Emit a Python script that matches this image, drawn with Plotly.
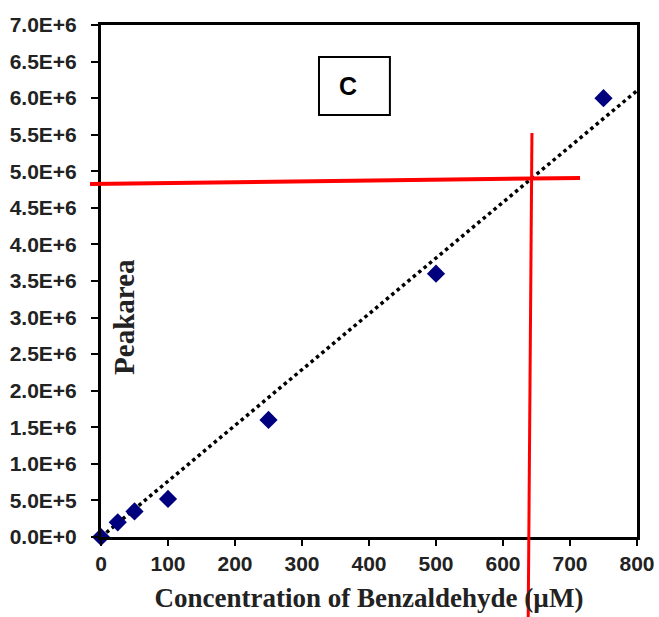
import numpy as np
import plotly.graph_objects as go

conc = [0, 25, 50, 100, 250, 500, 750]
peak_area = [0, 2.0e5, 3.5e5, 5.2e5, 1.6e6, 3.6e6, 6.0e6]
y_tick_vals = [i * 5e5 for i in range(15)]
y_tick_text = ["0.0E+0", "5.0E+5", "1.0E+6", "1.5E+6", "2.0E+6", "2.5E+6", "3.0E+6",
               "3.5E+6", "4.0E+6", "4.5E+6", "5.0E+6", "5.5E+6", "6.0E+6", "6.5E+6", "7.0E+6"]
x_tick_vals = [0, 100, 200, 300, 400, 500, 600, 700, 800]

# zero-intercept linear trendline
xa = np.array(conc, dtype=float)
ya = np.array(peak_area, dtype=float)
slope = (xa * ya).sum() / (xa * xa).sum()
trend_x = [0, 800]
trend_y = [slope * v for v in trend_x]

fig = go.Figure()
fig.add_trace(go.Scatter(x=trend_x, y=trend_y, mode="lines",
                         line=dict(color="black", width=3.5, dash="dot"),
                         hoverinfo="skip", showlegend=False))
fig.add_trace(go.Scatter(x=conc, y=peak_area, mode="markers",
                         marker=dict(symbol="diamond", size=14, color="#00007f"),
                         showlegend=False, cliponaxis=False))

axis_font = dict(family="Liberation Sans, Arial", size=21, color="#222222")
fig.update_xaxes(range=[0, 800], tickvals=x_tick_vals,
                 ticktext=["<b>%d</b>" % v for v in x_tick_vals],
                 ticks="outside", ticklen=6, tickwidth=2, tickcolor="black",
                 ticklabelstandoff=0, automargin=False,
                 showline=True, linecolor="black", linewidth=3, mirror=True,
                 showgrid=False, zeroline=False, tickfont=axis_font,
                 title=dict(text="<b>Concentration of Benzaldehyde (µM)</b>",
                            font=dict(family="Liberation Serif, Times New Roman", size=27, color="#222222"),
                            standoff=14))
fig.update_yaxes(range=[0, 7e6], tickvals=y_tick_vals,
                 ticktext=["<b>%s</b>" % t for t in y_tick_text],
                 ticks="outside", ticklen=7, tickwidth=2, tickcolor="black",
                 ticklabelstandoff=10, automargin=False,
                 showline=True, linecolor="black", linewidth=3, mirror=True,
                 showgrid=False, zeroline=False, tickfont=axis_font)

shapes = [
    dict(type="line", xref="paper", yref="paper", x0=-0.0205, y0=0.6895, x1=0.8937, y1=0.7012,
         line=dict(color="#ff0000", width=4)),
    dict(type="line", xref="paper", yref="paper", x0=0.804, y0=0.789, x1=0.797, y1=-0.16,
         line=dict(color="#ff0000", width=3)),
    dict(type="rect", xref="paper", yref="paper", x0=0.4067, y0=0.824, x1=0.539, y1=0.9375,
         line=dict(color="black", width=2), fillcolor="white"),
]
fig.update_layout(shapes=shapes)
fig.add_annotation(xref="paper", yref="paper", x=0.46, y=0.88, xanchor="center", yanchor="middle",
                   text="<b>C</b>", showarrow=False,
                   font=dict(family="Liberation Sans, Arial", size=25, color="black"))
fig.add_annotation(xref="paper", yref="paper", x=0.043, y=0.43, xanchor="center", yanchor="middle",
                   text="<b>Peakarea</b>", textangle=-90, showarrow=False,
                   font=dict(family="Liberation Serif, Times New Roman", size=29, color="#222222"))

fig.update_layout(width=659, height=617, margin=dict(l=101, r=22, t=25, b=80),
                  plot_bgcolor="white", paper_bgcolor="white")
fig.write_html("out.html")
